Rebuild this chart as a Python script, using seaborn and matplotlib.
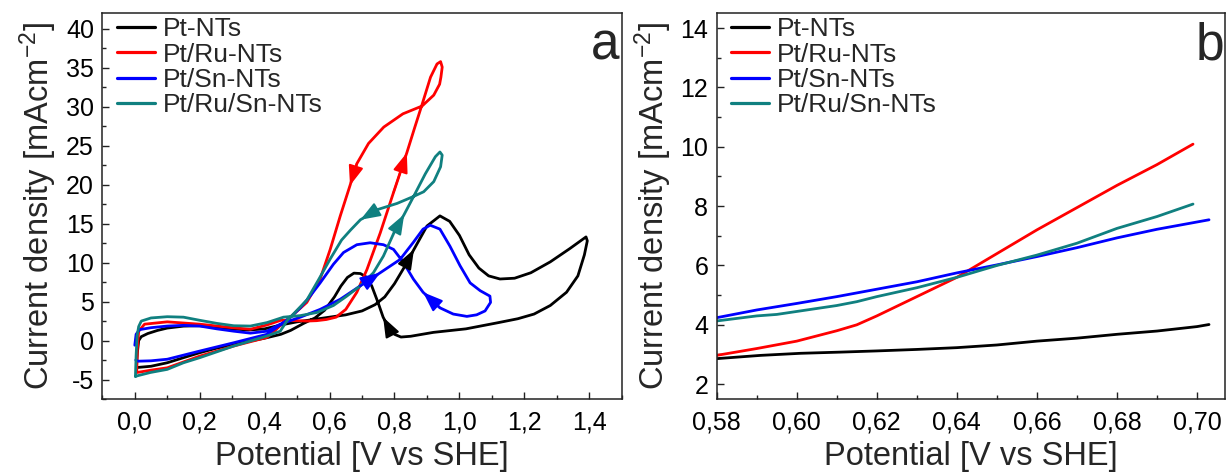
import numpy as np
import pandas as pd
import matplotlib
matplotlib.use("Agg")
import matplotlib.pyplot as plt
import seaborn as sns
from matplotlib.ticker import FixedLocator, FixedFormatter, MultipleLocator

# ---------------- data ----------------
samples = ["Pt-NTs", "Pt/Ru-NTs", "Pt/Sn-NTs", "Pt/Ru/Sn-NTs"]
colors = ["#000000", "#ff0000", "#0000ff", "#108080"]

# panel a: cyclic voltammograms (potential V vs SHE, current density mA cm^-2)
pt_E = [0.005, 0.008, 0.012, 0.02, 0.04, 0.07, 0.10, 0.15, 0.20, 0.25, 0.30, 0.35, 0.40, 0.45, 0.50,
        0.55, 0.60, 0.65, 0.70, 0.74, 0.77, 0.80, 0.83, 0.86, 0.90, 0.94, 0.97, 1.00, 1.03, 1.06,
        1.09, 1.125, 1.17, 1.22, 1.28, 1.34, 1.39, 1.394, 1.385, 1.365, 1.33, 1.28, 1.23, 1.18, 1.12,
        1.02, 0.92, 0.85, 0.82, 0.80, 0.78, 0.765, 0.75, 0.73, 0.715, 0.695, 0.675, 0.655, 0.635, 0.615,
        0.585, 0.555, 0.52, 0.48, 0.45, 0.40, 0.356, 0.305, 0.25, 0.20, 0.15, 0.10, 0.05, 0.01, 0.005]
pt_j = [-3.4, -1.5, 0.0, 0.5, 0.9, 1.3, 1.6, 1.85, 1.9, 1.75, 1.5, 1.35, 1.5, 2.0, 2.4,
        2.7, 3.0, 3.3, 3.8, 4.6, 5.6, 7.3, 9.4, 11.7, 14.7, 16.0, 15.3, 13.5, 11.0, 9.3,
        8.3, 7.9, 8.0, 8.7, 10.1, 11.8, 13.3, 12.8, 11.0, 8.3, 6.2, 4.5, 3.4, 2.8, 2.3,
        1.5, 1.05, 0.55, 0.45, 0.8, 1.8, 3.0, 4.8, 7.0, 8.1, 8.6, 8.65, 8.1, 7.0, 5.6,
        3.9, 2.9, 2.2, 1.3, 0.8, 0.3, -0.06, -0.5, -1.0, -1.56, -2.2, -2.85, -3.3, -3.45, -3.4]

ru_E = [0.006, 0.008, 0.012, 0.03, 0.10, 0.20, 0.30, 0.356, 0.407, 0.45, 0.50, 0.53, 0.56, 0.59, 0.62,
        0.65, 0.684, 0.715, 0.756, 0.797, 0.838, 0.862, 0.885, 0.911, 0.931, 0.942, 0.947, 0.943, 0.939,
        0.921, 0.885, 0.826, 0.767, 0.72, 0.684, 0.663, 0.633, 0.602, 0.571, 0.53, 0.49, 0.455, 0.43,
        0.407, 0.305, 0.20, 0.10, 0.05, 0.007]
ru_j = [-4.0, -1.0, 1.2, 2.1, 2.4, 2.1, 1.65, 1.45, 2.0, 2.6, 2.55, 2.5, 2.55, 2.7, 3.0,
        4.0, 6.2, 9.1, 13.8, 19.0, 24.1, 27.3, 30.3, 33.8, 35.5, 35.8, 35.1, 33.8, 32.9,
        31.5, 30.1, 29.1, 27.4, 25.3, 22.7, 19.9, 16.0, 11.7, 7.9, 4.9, 3.4, 2.2, 1.2,
        0.4, -0.7, -2.0, -3.5, -3.8, -4.1]

sn_E = [0.0, 0.004, 0.015, 0.05, 0.10, 0.15, 0.20, 0.253, 0.305, 0.356, 0.407, 0.448, 0.51, 0.571, 0.633,
        0.694, 0.756, 0.817, 0.858, 0.888, 0.91, 0.94, 0.971, 1.002, 1.033, 1.064, 1.094, 1.096, 1.079,
        1.053, 1.023, 0.981, 0.94, 0.888, 0.858, 0.828, 0.797, 0.766, 0.725, 0.684, 0.643, 0.612, 0.571,
        0.54, 0.51, 0.48, 0.448, 0.407, 0.305, 0.20, 0.10, 0.05, 0.01, 0.003]
sn_j = [-0.6, 0.8, 1.4, 1.65, 1.86, 1.95, 1.86, 1.5, 1.2, 0.95, 1.2, 2.1, 3.0, 4.0, 5.3,
        7.0, 8.7, 10.4, 12.6, 14.3, 14.8, 14.3, 12.1, 9.6, 7.4, 6.4, 5.7, 4.9, 3.8,
        3.3, 3.1, 3.4, 4.2, 6.2, 7.9, 10.0, 11.7, 12.3, 12.55, 12.3, 11.3, 9.8, 7.4,
        5.7, 4.2, 3.0, 2.0, 0.8, -0.28, -1.35, -2.4, -2.6, -2.65, -2.5]

rusn_E = [0.002, 0.004, 0.007, 0.012, 0.02, 0.05, 0.10, 0.15, 0.20, 0.253, 0.305, 0.356, 0.407, 0.458,
          0.51, 0.561, 0.612, 0.653, 0.694, 0.735, 0.766, 0.798, 0.83, 0.859, 0.895, 0.926, 0.94, 0.947,
          0.942, 0.921, 0.89, 0.859, 0.808, 0.747, 0.695, 0.665, 0.637, 0.601, 0.566, 0.53, 0.50, 0.47,
          0.448, 0.407, 0.305, 0.20, 0.15, 0.10, 0.048, 0.01, 0.002]
rusn_j = [-4.6, -2.0, 0.6, 1.8, 2.5, 2.9, 3.06, 3.0, 2.6, 2.2, 1.9, 1.86, 2.3, 3.0,
          3.2, 3.6, 4.5, 5.7, 7.0, 8.7, 10.85, 13.8, 16.2, 18.5, 21.4, 23.6, 24.2, 23.8,
          22.3, 20.4, 19.1, 18.5, 17.6, 16.8, 15.5, 14.2, 12.9, 10.4, 7.8, 5.2, 3.9, 2.6,
          1.2, 0.58, -0.7, -2.2, -2.85, -3.7, -4.1, -4.5, -4.6]

# panel b: zoom on the onset region
b_pt_E = [0.58, 0.591, 0.601, 0.611, 0.62, 0.63, 0.64, 0.65, 0.66, 0.67, 0.68, 0.69, 0.70, 0.703]
b_pt_j = [2.86, 2.97, 3.04, 3.08, 3.12, 3.17, 3.23, 3.32, 3.45, 3.55, 3.68, 3.79, 3.94, 4.01]
b_ru_E = [0.58, 0.59, 0.60, 0.61, 0.615, 0.62, 0.63, 0.64, 0.645, 0.65, 0.66, 0.67, 0.68, 0.69, 0.699]
b_ru_j = [2.97, 3.2, 3.45, 3.8, 4.0, 4.3, 4.95, 5.6, 6.0, 6.4, 7.2, 7.95, 8.7, 9.4, 10.09]
b_sn_E = [0.58, 0.59, 0.60, 0.61, 0.62, 0.63, 0.64, 0.65, 0.66, 0.67, 0.68, 0.69, 0.703]
b_sn_j = [4.24, 4.5, 4.72, 4.95, 5.2, 5.45, 5.75, 6.02, 6.3, 6.6, 6.93, 7.22, 7.54]
b_rusn_E = [0.58, 0.59, 0.595, 0.60, 0.61, 0.615, 0.62, 0.63, 0.64, 0.65, 0.66, 0.67, 0.68, 0.69, 0.699]
b_rusn_j = [4.13, 4.3, 4.35, 4.45, 4.65, 4.78, 4.95, 5.25, 5.6, 6.0, 6.35, 6.75, 7.25, 7.65, 8.07]

# ticks
a_xticks = [0.0, 0.2, 0.4, 0.6, 0.8, 1.0, 1.2, 1.4]
a_xticklabels = ["0,0", "0,2", "0,4", "0,6", "0,8", "1,0", "1,2", "1,4"]
a_yticks = [-5, 0, 5, 10, 15, 20, 25, 30, 35, 40]
a_yticklabels = ["-5", "0", "5", "10", "15", "20", "25", "30", "35", "40"]
b_xticks = [0.58, 0.60, 0.62, 0.64, 0.66, 0.68, 0.70]
b_xticklabels = ["0,58", "0,60", "0,62", "0,64", "0,66", "0,68", "0,70"]
b_yticks = [2, 4, 6, 8, 10, 12, 14]
b_yticklabels = ["2", "4", "6", "8", "10", "12", "14"]

xlabel = "Potential [V vs SHE]"
ylabel = "Current density [mAcm$^{-2}$]"

# ---------------- style ----------------
sns.set_theme(style="ticks")
plt.rcParams["font.family"] = ["Liberation Sans", "DejaVu Sans"]
plt.rcParams["mathtext.fontset"] = "custom"
plt.rcParams["mathtext.rm"] = "Liberation Sans"
plt.rcParams["mathtext.it"] = "Liberation Sans:italic"
plt.rcParams["mathtext.bf"] = "Liberation Sans:bold"
plt.rcParams["axes.edgecolor"] = "#222222"
plt.rcParams["axes.linewidth"] = 1.1

a_series = [(pt_E, pt_j), (ru_E, ru_j), (sn_E, sn_j), (rusn_E, rusn_j)]
b_series = [(b_pt_E, b_pt_j), (b_ru_E, b_ru_j), (b_sn_E, b_sn_j), (b_rusn_E, b_rusn_j)]
for E, j in a_series + b_series:
    assert len(E) == len(j)


def make_df(series):
    frames = []
    for name, (E, j) in zip(samples, series):
        frames.append(pd.DataFrame({"E": E, "j": j, "sample": name}))
    return pd.concat(frames, ignore_index=True)


df_a = make_df(a_series)
df_b = make_df(b_series)
palette = dict(zip(samples, colors))

fig = plt.figure(figsize=(12.27, 4.72), dpi=100)
ax1 = fig.add_axes([0.0834, 0.1547, 0.4233, 0.8171])
ax2 = fig.add_axes([0.5841, 0.1547, 0.4143, 0.8171])

for ax, df in ((ax1, df_a), (ax2, df_b)):
    sns.lineplot(data=df, x="E", y="j", hue="sample", hue_order=samples, palette=palette,
                 sort=False, estimator=None, linewidth=2.0, ax=ax)
    leg = ax.get_legend()
    handles = leg.legend_handles
    labels = [t.get_text() for t in leg.texts]
    for h in handles:
        h.set_linewidth(2.3)
    ax.legend(handles, labels, loc="upper left", bbox_to_anchor=(0.02, 1.0), frameon=False,
              fontsize=19, handlelength=1.45, handletextpad=0.3, labelspacing=0.05,
              borderaxespad=0.1, borderpad=0.05)
    for s in ["top", "right", "left", "bottom"]:
        ax.spines[s].set_visible(True)
    ax.set_xlabel(xlabel, fontsize=23.5, labelpad=5)
    ax.set_ylabel(ylabel, fontsize=23.5, labelpad=5)
    ax.tick_params(which="both", direction="in", colors="#222222", labelcolor="black",
                   top=False, right=False)
    ax.tick_params(which="major", length=5, width=1.0, labelsize=18)
    ax.tick_params(which="minor", length=2.8, width=1.0)
    ax.tick_params(axis="x", which="major", pad=8)
    ax.tick_params(axis="y", which="major", pad=6)

# panel a arrows (direction of scan), drawn on the data path
a_arrows = [(0, 23), (0, 51), (1, 20), (1, 35), (2, 16), (2, 33), (3, 22), (3, 34)]
for si, idx in a_arrows:
    E, j = a_series[si]
    ax1.annotate("", xy=(E[idx], j[idx]), xytext=(E[idx - 1], j[idx - 1]),
                 arrowprops=dict(arrowstyle="-|>,head_length=0.8,head_width=0.3",
                                 color=colors[si], lw=1.5, shrinkA=0, shrinkB=0,
                                 mutation_scale=15))

ax1.set_xlim(-0.1, 1.5)
ax1.set_ylim(-7.5, 42)
ax1.xaxis.set_major_locator(FixedLocator(a_xticks))
ax1.xaxis.set_major_formatter(FixedFormatter(a_xticklabels))
ax1.xaxis.set_minor_locator(MultipleLocator(0.1))
ax1.yaxis.set_major_locator(FixedLocator(a_yticks))
ax1.yaxis.set_major_formatter(FixedFormatter(a_yticklabels))
ax1.yaxis.set_minor_locator(MultipleLocator(2.5))

ax2.set_xlim(0.58, 0.707)
ax2.set_ylim(1.5, 14.5)
ax2.xaxis.set_major_locator(FixedLocator(b_xticks))
ax2.xaxis.set_major_formatter(FixedFormatter(b_xticklabels))
ax2.xaxis.set_minor_locator(MultipleLocator(0.01))
ax2.yaxis.set_major_locator(FixedLocator(b_yticks))
ax2.yaxis.set_major_formatter(FixedFormatter(b_yticklabels))
ax2.yaxis.set_minor_locator(MultipleLocator(1))

ax1.text(0.995, 0.879, "a", transform=ax1.transAxes, ha="right", va="baseline", fontsize=37)
ax2.text(0.998, 0.879, "b", transform=ax2.transAxes, ha="right", va="baseline", fontsize=37)

fig.savefig("out.png", dpi=100, facecolor="white")
